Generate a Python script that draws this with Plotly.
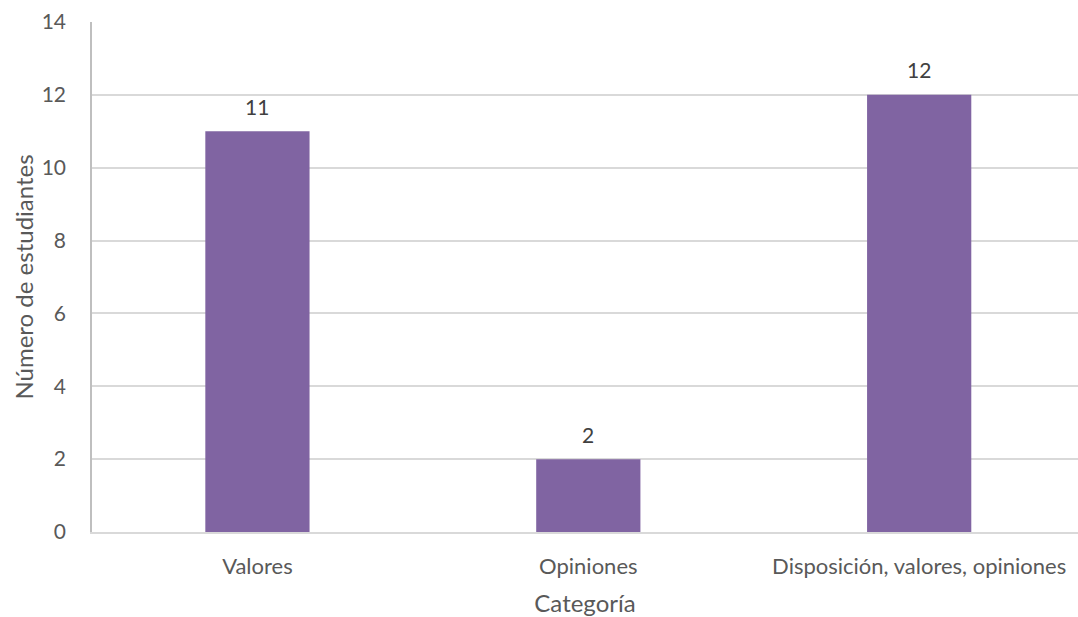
import plotly.graph_objects as go

categories = ["Valores", "Opiniones", "Disposición, valores, opiniones"]
values = [11, 2, 12]
y_ticks = [0, 2, 4, 6, 8, 10, 12, 14]

FONT = "Lato"

fig = go.Figure()
fig.add_trace(go.Bar(
    x=categories, y=values,
    marker=dict(color="#8064A2", line=dict(width=0)),
    width=0.315,
    cliponaxis=False,
))
for c, v in zip(categories, values):
    fig.add_annotation(x=c, y=v, text=str(v), showarrow=False, yshift=25,
                       font=dict(family=FONT, size=21, color="#404040"))

fig.update_layout(
    width=1078, height=617,
    margin=dict(l=92, r=0, t=22, b=85),
    plot_bgcolor="white", paper_bgcolor="white",
    showlegend=False,
    font=dict(family=FONT, size=21, color="#595959"),
    xaxis=dict(
        range=[-0.5, 2.48],
        showgrid=False,
        showline=True, linecolor="#d9d9d9", linewidth=1.5,
        ticks="", ticklabelstandoff=14,
        tickfont=dict(family=FONT, size=22, color="#595959"),
        title=dict(text="Categoría", font=dict(family=FONT, size=24, color="#595959"), standoff=17),
    ),
    yaxis=dict(
        range=[0, 14],
        tickvals=y_ticks,
        showgrid=True, gridcolor="#d9d9d9", gridwidth=1.5,
        showline=True, linecolor="#bfbfbf", linewidth=1.5,
        zeroline=False,
        ticks="", ticklabelstandoff=20,
        tickfont=dict(family=FONT, size=21, color="#595959"),
        title=dict(text="Número de estudiantes", font=dict(family=FONT, size=24, color="#595959"), standoff=1),
    ),
    bargap=0.5,
)

fig.write_html("out.html")
